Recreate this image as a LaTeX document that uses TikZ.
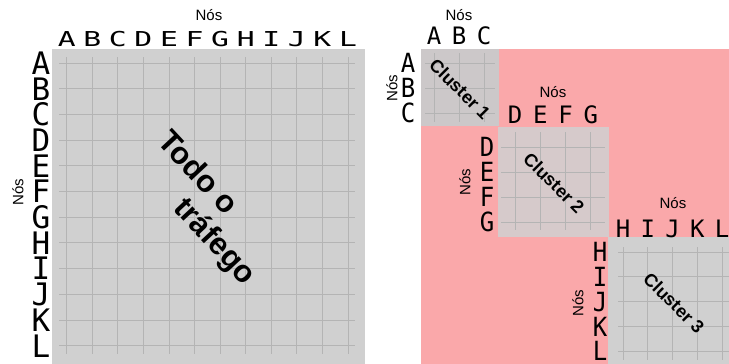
\documentclass[tikz,border=0pt]{standalone}
\usepackage{fontspec}
\usepackage{graphicx}
\setmainfont{Liberation Sans}
\newfontfamily\letterfont{DejaVu Sans Mono}
\definecolor{cellgray}{RGB}{208,208,208}
\definecolor{clusterone}{RGB}{204,200,201}
\definecolor{clustertwo}{RGB}{214,202,203}
\definecolor{trafficpink}{RGB}{250,168,170}
\definecolor{gridgray}{RGB}{180,180,180}
\tikzset{
	gridline/.style = {draw = gridgray, line width = 0.9pt},
	nos/.style = {inner sep = 0pt, font = \fontsize{15}{15}\selectfont},
	bigletter/.style = {inner sep = 0pt, anchor = base, font = \fontsize{31}{31}\letterfont},
	wideletter/.style = {inner sep = 0pt, anchor = base, font = \fontsize{27}{27}\letterfont},
	smallletter/.style = {inner sep = 0pt, anchor = base, font = \fontsize{24}{24}\letterfont},
	clustername/.style = {inner sep = 0pt, rotate = -45, font = \bfseries\fontsize{18}{18}\selectfont},
	bigtext/.style = {inner sep = 0pt, rotate = -47, font = \bfseries\fontsize{31}{31}\selectfont}
}
\begin{document}
\begin{tikzpicture} [x = 1pt, y = -1pt]
	\useasboundingbox (0,0) rectangle (729,364);
	% todo o trafego
	\fill [cellgray] (52,49) rectangle (365,364);
	\foreach \i in {0,...,11} {
		\draw [gridline] ({66.7+25.57*\i},57) -- ({66.7+25.57*\i},354);
		\draw [gridline] (59,{63+25.7*\i}) -- (355,{63+25.7*\i});
	}
	\foreach \l [count = \i from 0] in {A,...,L} {
		\node [wideletter] (top\l) at ({66.7+25.57*\i},46.5) {\scalebox{1.1}[0.76]{\l}};
		\node [bigletter] (left\l) at (41,{63+25.7*\i+11.3}) {\l};
	}
	\node [nos] (nosTop) at (209,15) {Nós};
	\node [nos, rotate = 90] (nosLeft) at (18,192) {Nós};
	\node [bigtext] (todo) at (199,172) {Todo o};
	\node [bigtext] (trafego) at (214,242) {tráfego};
	% clusters
	\fill [trafficpink] (421,49) rectangle (729,364);
	\fill [clusterone] (421,49) rectangle (499,126);
	\fill [clustertwo] (498,127) rectangle (609,237);
	\fill [cellgray] (608,237) rectangle (729,364);
	\foreach \i in {0,1,2} {
		\draw [gridline] ({434+25*\i},53) -- ({434+25*\i},122);
		\draw [gridline] (425,{63+25*\i}) -- (495,{63+25*\i});
	}
	\foreach \i in {0,...,3} {
		\draw [gridline] ({515+25.3*\i},132) -- ({515+25.3*\i},230);
		\draw [gridline] (501,{147+25*\i}) -- (605,{147+25*\i});
	}
	\foreach \i in {0,...,4} {
		\draw [gridline] ({623+24.8*\i},247) -- ({623+24.8*\i},360);
		\draw [gridline] (618,{252+24.8*\i}) -- (729,{252+24.8*\i});
	}
	\foreach \l [count = \i from 0] in {A,B,C} {
		\node [smallletter] (oneTop\l) at ({434+25*\i},45) {\l};
		\node [smallletter] (oneLeft\l) at (408,{63+25*\i+9.6}) {\scalebox{1}[1.1]{\l}};
	}
	\foreach \l [count = \i from 0] in {D,E,F,G} {
		\node [smallletter] (twoTop\l) at ({515+25.3*\i},123) {\l};
		\node [smallletter] (twoLeft\l) at (487,{147+25*\i+9.6}) {\scalebox{1}[1.1]{\l}};
	}
	\foreach \l [count = \i from 0] in {H,I,J,K,L} {
		\node [smallletter] (threeTop\l) at ({623+24.8*\i},237) {\l};
		\node [smallletter] (threeLeft\l) at (600,{252+24.8*\i+9.6}) {\scalebox{1}[1.1]{\l}};
	}
	\node [nos] (nosOneTop) at (459,15) {Nós};
	\node [nos, rotate = 90] (nosOneLeft) at (392,88) {Nós};
	\node [nos] (nosTwoTop) at (553,92) {Nós};
	\node [nos, rotate = 90] (nosTwoLeft) at (465,182) {Nós};
	\node [nos] (nosThreeTop) at (673,203) {Nós};
	\node [nos, rotate = 90] (nosThreeLeft) at (578,303) {Nós};
	\node [clustername] (clusterOne) at (460,89) {Cluster 1};
	\node [clustername] (clusterTwo) at (554,183) {Cluster 2};
	\node [clustername] (clusterThree) at (674,303) {Cluster 3};
\end{tikzpicture}
\end{document}
